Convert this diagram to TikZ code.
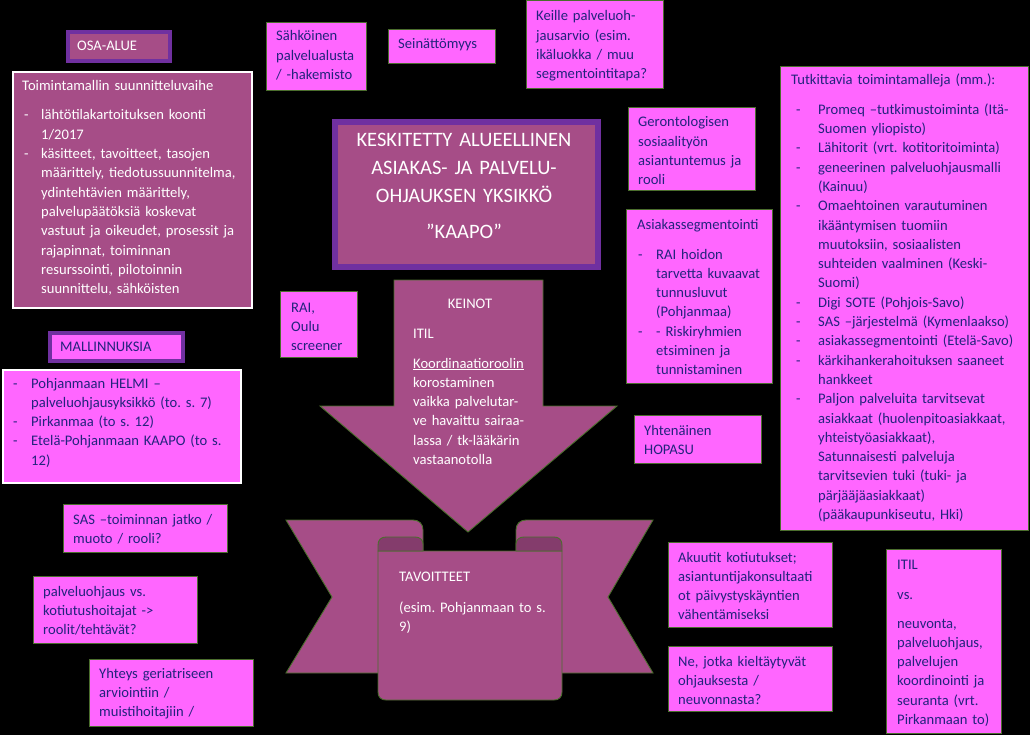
\documentclass[tikz,border=0pt]{standalone}
\usepackage{fontspec}
\setmainfont{Carlito}
\usetikzlibrary{positioning}
\frenchspacing

\definecolor{mauve}{RGB}{166,77,135}
\definecolor{boxpink}{RGB}{255,102,255}
\definecolor{navytext}{RGB}{35,35,125}
\definecolor{purpleframe}{RGB}{112,48,160}
\definecolor{greenline}{RGB}{75,110,45}
\definecolor{folddark}{RGB}{132,60,108}

% dash item with hanging indent: dash offset, text offset, text
\newcommand{\ditem}[3]{\noindent\hangindent=#2pt\hangafter=1\hbox to #2pt{\hskip#1pt-\hfil}\ignorespaces#3\par}
\newcommand{\nl}{\hfil\break}

\tikzset{
  card/.style={draw=greenline, line width=1.1pt, fill=boxpink, inner sep=0pt, anchor=north west},
  framecard/.style={draw=purpleframe, line width=#1, fill=mauve, inner sep=0pt, anchor=north west},
  ribbonpart/.style={draw=greenline, line width=0.9pt, fill=mauve},
  cardtext/.style={anchor=base west, inner sep=0pt, align=left, text width=#1, text=navytext,
    font=\fontsize{14.6}{19.3}\selectfont},
  whitetext/.style={cardtext=#1, text=white},
}

\begin{document}
\begin{tikzpicture}[x=1pt, y=-1pt]
    \fill[black] (0,0) rectangle (1030,735);
    \useasboundingbox (0,0) rectangle (1030,735);

    % Left column
    \node[framecard=4pt, minimum width=102pt, minimum height=29pt] (osa) at (66,30) {};
    \node[whitetext=90pt] (osa-t) at (77,51) {OSA-ALUE};

    \node[framecard=2pt, draw=white, minimum width=239pt, minimum height=236pt] (toim) at (12,71) {};
    \node[whitetext=228pt] (toim-t) at (22,91) {Toimintamallin suunnitteluvaihe\par\vspace{9.7pt}
      \ditem{2}{19}{lähtötilakartoituksen koonti\nl 1/2017}
      \ditem{2}{19}{käsitteet, tavoitteet, tasojen\nl määrittely, tiedotussuunnitelma,\nl ydintehtävien määrittely,\nl palvelupäätöksiä koskevat\nl vastuut ja oikeudet, prosessit ja\nl rajapinnat, toiminnan\nl resurssointi, pilotoinnin\nl suunnittelu, sähköisten}};

    \node[framecard=4pt, fill=boxpink, minimum width=133pt, minimum height=28pt] (mall) at (48,331) {};
    \node[cardtext=120pt] (mall-t) at (60,351) {MALLINNUKSIA};

    \node[card, draw=white, line width=2pt, minimum width=238pt, minimum height=113pt] (pohj) at (2,369) {};
    \node[cardtext=236pt] (pohj-t) at (1,388) {%
      \ditem{12}{30}{Pohjanmaan HELMI –\nl palveluohjausyksikkö (to. s. 7)}
      \ditem{12}{30}{Pirkanmaa (to s. 12)}
      \ditem{12}{30}{Etelä-Pohjanmaan KAAPO (to s.\nl 12)}};

    \node[card, minimum width=164pt, minimum height=48pt] (sas) at (63,504) {};
    \node[cardtext=155pt] (sas-t) at (73,524) {SAS –toiminnan jatko /\\muoto / rooli?};

    \node[card, minimum width=164pt, minimum height=67pt] (palv) at (33,576) {};
    \node[cardtext=155pt] (palv-t) at (43,596) {palveluohjaus vs.\\kotiutushoitajat ->\\roolit/tehtävät?};

    \node[card, minimum width=164pt, minimum height=67pt] (yht) at (89,659) {};
    \node[cardtext=155pt] (yht-t) at (99,678) {Yhteys geriatriseen\\arviointiin /\\muistihoitajiin /};

    % Top row
    \node[card, minimum width=100pt, minimum height=68pt] (sahko) at (266,22) {};
    \node[cardtext=95pt] (sahko-t) at (276,41) {Sähköinen\\palvelualusta\\/ -hakemisto};

    \node[card, minimum width=107pt, minimum height=34pt] (sein) at (388,29) {};
    \node[cardtext=100pt] (sein-t) at (398,49) {Seinättömyys};

    \node[card, minimum width=137pt, minimum height=88pt] (keille) at (526,0) {};
    \node[cardtext=130pt] (keille-t) at (536,21) {Keille palveluoh-\\jausarvio (esim.\\ikäluokka / muu\\segmentointitapa?};

    % Centre
    \node[framecard=6pt, minimum width=263pt, minimum height=145pt] (kaapo) at (332,119) {};
    \node[anchor=base, inner sep=0pt, align=center, text width=260pt, text=white,
      font=\fontsize{20.5}{28}\selectfont] (kaapo-t) at (464,147)
      {KESKITETTY ALUEELLINEN\\ASIAKAS- JA PALVELU-\\OHJAUKSEN YKSIKKÖ\\[8pt]”KAAPO”};

    \node[card, minimum width=77pt, minimum height=66pt] (rai) at (280,291) {};
    \node[cardtext=75pt] (rai-t) at (291,312) {RAI,\\Oulu\\screener};

    % Keinot arrow
    \draw[ribbonpart] (394,280) -- (543,280) -- (543,406) -- (617,406) -- (468,532)
      -- (320,406) -- (394,406) -- cycle;
    \node[whitetext=100pt, anchor=base, align=center] (keinot) at (470,308) {KEINOT};
    \node[whitetext=130pt] (keinot-t) at (413,338) {ITIL\\[10.7pt]\underline{Koordinaatioroolin}\\korostaminen\\vaikka palvelutar-\\ve havaittu sairaa-\\lassa / tk-lääkärin\\vastaanotolla};

    % Tavoitteet ribbon
    \draw[ribbonpart] (286,520) -- (413,520) .. controls (419,520) and (423,524) .. (423,530)
      -- (423,673) -- (286,673) -- (332,597) -- cycle;
    \draw[ribbonpart] (653,520) -- (526,520) .. controls (520,520) and (516,524) .. (516,530)
      -- (516,673) -- (653,673) -- (608,597) -- cycle;
    \draw[ribbonpart] (378,551) -- (378,692) .. controls (378,697) and (381,700) .. (386,700)
      -- (554,700) .. controls (559,700) and (562,697) .. (562,692) -- (562,551) -- cycle;
    \draw[ribbonpart, fill=folddark] (378,551) -- (378,545) .. controls (378,540) and (381,537) .. (386,537)
      -- (415,537) .. controls (420,537) and (423,540) .. (423,544) -- (423,551) -- cycle;
    \draw[ribbonpart, fill=folddark] (562,551) -- (562,545) .. controls (562,540) and (559,537) .. (554,537)
      -- (524,537) .. controls (519,537) and (516,540) .. (516,544) -- (516,551) -- cycle;
    \node[whitetext=160pt] (tav-t) at (399,581) {TAVOITTEET\\[11.7pt](esim. Pohjanmaan to s.\\9)};

    % Right middle column
    \node[card, minimum width=127pt, minimum height=83pt] (geron) at (628,107) {};
    \node[cardtext=120pt] (geron-t) at (638,127) {Gerontologisen\\sosiaalityön\\asiantuntemus ja\\rooli};

    \node[card, minimum width=146pt, minimum height=174pt] (segm) at (626,209) {};
    \node[cardtext=138pt] (segm-t) at (637,230) {Asiakassegmentointi\par\vspace{9.7pt}
      \ditem{1}{19}{RAI hoidon\nl tarvetta kuvaavat\nl tunnusluvut\nl (Pohjanmaa)}
      \ditem{1}{19}{- Riskiryhmien\nl etsiminen ja\nl tunnistaminen}};

    \node[card, minimum width=127pt, minimum height=48pt] (hopasu) at (634,415) {};
    \node[cardtext=120pt] (hopasu-t) at (644,435) {Yhtenäinen\\HOPASU};

    \node[card, minimum width=164pt, minimum height=85pt] (akuu) at (668,542) {};
    \node[cardtext=160pt] (akuu-t) at (678,562) {Akuutit kotiutukset;\\asiantuntijakonsultaati\\ot päivystyskäyntien\\vähentämiseksi};

    \node[card, minimum width=164pt, minimum height=65pt] (kielt) at (668,646) {};
    \node[cardtext=155pt] (kielt-t) at (678,666) {Ne, jotka kieltäytyvät\\ohjauksesta /\\neuvonnasta?};

    % Right column
    \node[card, minimum width=248pt, minimum height=464pt] (tutk) at (780,66) {};
    \node[cardtext=240pt] (tutk-t) at (791,85) {Tutkittavia toimintamalleja (mm.):\par\vspace{10pt}
      \ditem{5}{27}{Promeq –tutkimustoiminta (Itä-\nl Suomen yliopisto)}
      \ditem{5}{27}{Lähitorit (vrt. kotitoritoiminta)}
      \ditem{5}{27}{geneerinen palveluohjausmalli\nl (Kainuu)}
      \ditem{5}{27}{Omaehtoinen varautuminen\nl ikääntymisen tuomiin\nl muutoksiin, sosiaalisten\nl suhteiden vaalminen (Keski-\nl Suomi)}
      \ditem{5}{27}{Digi SOTE (Pohjois-Savo)}
      \ditem{5}{27}{SAS –järjestelmä (Kymenlaakso)}
      \ditem{5}{27}{asiakassegmentointi (Etelä-Savo)}
      \ditem{5}{27}{kärkihankerahoituksen saaneet\nl hankkeet}
      \ditem{5}{27}{Paljon palveluita tarvitsevat\nl asiakkaat (huolenpitoasiakkaat,\nl yhteistyöasiakkaat),\nl Satunnaisesti palveluja\nl tarvitsevien tuki (tuki- ja\nl pärjääjäasiakkaat)\nl (pääkaupunkiseutu, Hki)}};

    \node[card, minimum width=115pt, minimum height=184pt] (itilvs) at (886,549) {};
    \node[cardtext=112pt] (itilvs-t) at (897,569) {ITIL\\[10.7pt]vs.\\[9.7pt]neuvonta,\\palveluohjaus,\\palvelujen\\koordinointi ja\\seuranta (vrt.\\Pirkanmaan to)};
\end{tikzpicture}
\end{document}
